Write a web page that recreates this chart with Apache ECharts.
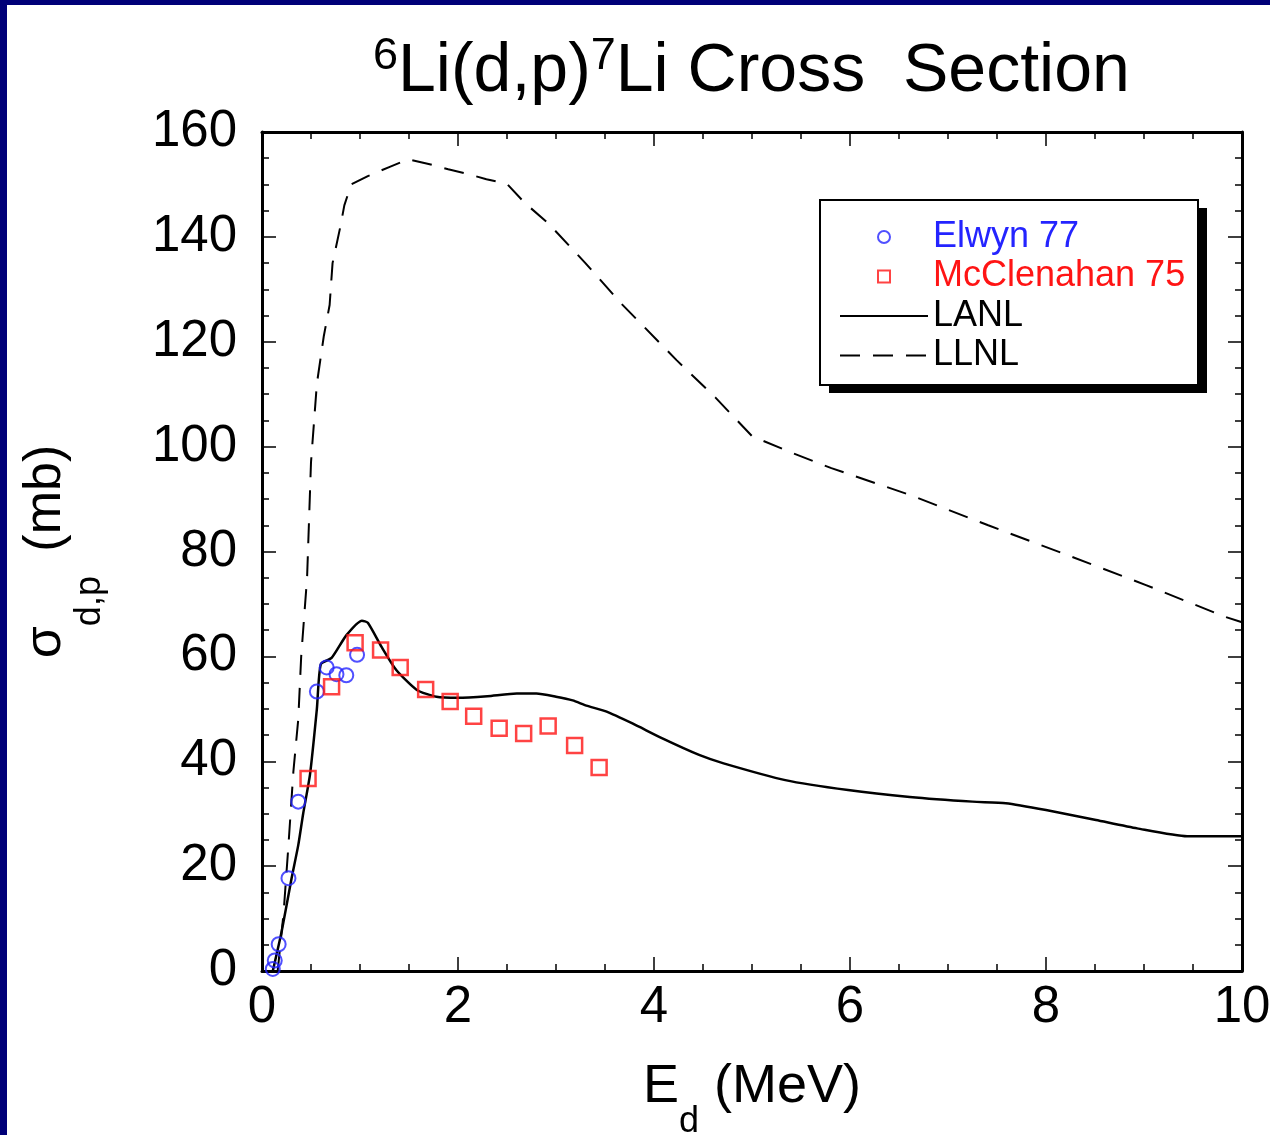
<!DOCTYPE html>
<html><head><meta charset="utf-8">
<script src="https://cdn.jsdelivr.net/npm/echarts@6/dist/echarts.min.js"></script>
<style>
html,body{margin:0;padding:0;background:#000078;width:1270px;height:1135px;overflow:hidden}
#chart{position:absolute;left:7px;top:5px;width:1263px;height:1130px;background:#fff}
</style></head><body><div id="chart"></div>
<script>
// ---- data (E_d in MeV, sigma in mb) ----
const xTickLabels = ['0','2','4','6','8','10'];
const yTickLabels = ['0','20','40','60','80','100','120','140','160'];

const elwynE   = [0.11, 0.13, 0.17, 0.27, 0.37, 0.56, 0.66, 0.76, 0.86, 0.97];
const elwynSig = [0.4,  2.0,  5.1,  17.7, 32.3, 53.3, 57.9, 56.6, 56.4, 60.3];

const mccE   = [0.47, 0.71, 0.95, 1.21, 1.41, 1.67, 1.92, 2.16, 2.42, 2.67, 2.92, 3.19, 3.44];
const mccSig = [36.7, 54.2, 62.6, 61.2, 57.9, 53.7, 51.4, 48.6, 46.3, 45.3, 46.7, 43.0, 38.8];

const lanlE   = [0.11,0.20,0.30,0.37,0.42,0.49,0.56,0.60,0.71,0.86,1.02,1.08,1.22,1.37,1.58,1.78,2.00,2.30,2.60,2.80,3.00,3.17,3.31,3.51,3.78,4.08,4.46,4.71,5.34,5.98,6.61,7.25,7.59,8.00,8.51,8.93,9.44,10.0];
const lanlSig = [0.0, 7.5, 17.5,24.0,30.0,37.5,50.0,58.5,59.7,64.0,66.8,66.4,61.8,57.4,53.6,52.3,52.1,52.4,52.9,52.9,52.3,51.6,50.6,49.5,47.2,44.4,41.2,39.6,36.4,34.5,33.2,32.3,32.0,30.7,28.8,27.2,25.7,25.7];

const llnlE   = [0.16,0.22,0.27,0.32,0.37,0.40,0.46,0.50,0.56,0.63,0.69,0.72,0.80,0.84,0.91,1.08,1.31,1.49,1.70,1.90,2.10,2.29,2.50,2.68,2.92,3.30,3.66,4.23,4.63,5.00,5.41,5.81,6.61,7.41,8.22,9.02,9.82,10.0];
const llnlSig = [0.0, 11,  24,  38,  48,  60,  75,  97,  112, 121, 127, 135, 142, 146, 150, 151.6,153.4,154.8,153.9,152.9,152.0,151.0,150.1,146.5,142.6,135.0,127.4,116.5,109.3,102.0,98.8,95.9,90.8,85.0,79.3,73.6,67.6,66.5];

const FONT = "'Liberation Sans', Arial, sans-serif";
const zip = (a, b) => a.map((v, i) => [v, b[i]]);

const axisCommon = {
  type: 'value',
  axisLine: { show: true, onZero: false, lineStyle: { color: '#000', width: 3 } },
  axisTick: { show: true, inside: true, length: 14, lineStyle: { color: '#000', width: 1.5 } },
  minorTick: { show: true, splitNumber: 4, length: 7, lineStyle: { color: '#000', width: 1.5 } },
  splitLine: { show: false },
  minorSplitLine: { show: false }
};

const chart = echarts.init(document.getElementById('chart'));
chart.setOption({
  animation: false,
  backgroundColor: '#fff',
  title: {
    text: '{sup|6}{m|Li(d,p)}{sup|7}{m|Li Cross  Section}',
    left: 366, top: 29, padding: 0,
    textStyle: {
      fontWeight: 'normal',
      rich: {
        m: { fontFamily: FONT, fontSize: 68, fontWeight: 'normal', lineHeight: 70, color: '#000', verticalAlign: 'top', padding: [4, 0, 0, 0] },
        sup: { fontFamily: FONT, fontSize: 45, fontWeight: 'normal', lineHeight: 45, color: '#000', verticalAlign: 'top' }
      }
    }
  },
  graphic: [
    { type: 'rect', z: 10, shape: { x: 822, y: 203, width: 378, height: 185 }, style: { fill: '#000' } },
    { type: 'rect', z: 11, shape: { x: 813, y: 195, width: 378, height: 185 }, style: { fill: '#fff', stroke: '#000', lineWidth: 2 } }
  ],
  grid: { left: 255, right: 28, top: 127, bottom: 164, containLabel: false, outerBoundsMode: 'none' },
  xAxis: [
    Object.assign({}, axisCommon, {
      position: 'bottom', min: 0, max: 10, interval: 2,
      axisLabel: { show: true, margin: 11, fontSize: 51, fontFamily: FONT, color: '#000',
        formatter: (v) => xTickLabels[Math.round(v / 2)] },
      name: '{m|E}{s|d}{m| (MeV)}', nameLocation: 'middle', nameGap: 89,
      nameTextStyle: { rich: {
        m: { fontFamily: FONT, fontSize: 54, lineHeight: 54, color: '#000', verticalAlign: 'top' },
        s: { fontFamily: FONT, fontSize: 36, lineHeight: 36, color: '#000', verticalAlign: 'top', padding: [44, 0, 0, 0] }
      } }
    }),
    Object.assign({}, axisCommon, { position: 'top', min: 0, max: 10, interval: 2, axisLabel: { show: false } })
  ],
  yAxis: [
    Object.assign({}, axisCommon, {
      position: 'left', min: 0, max: 160, interval: 20,
      axisLabel: { show: true, margin: 25, fontSize: 51, fontFamily: FONT, color: '#000',
        formatter: (v) => yTickLabels[Math.round(v / 20)] },
      name: '{m|σ}{s|d,p }{m| (mb)}', nameLocation: 'middle', nameGap: 190, nameRotate: 90,
      nameTextStyle: { rich: {
        m: { fontFamily: FONT, fontSize: 52, lineHeight: 52, color: '#000', verticalAlign: 'top' },
        s: { fontFamily: FONT, fontSize: 36, lineHeight: 36, color: '#000', verticalAlign: 'top', padding: [52, 0, 0, 0] }
      } }
    }),
    Object.assign({}, axisCommon, { position: 'right', min: 0, max: 160, interval: 20, axisLabel: { show: false } })
  ],
  legend: {
    z: 12,
    orient: 'vertical', left: 813, top: 197,
    itemWidth: 88, itemHeight: 12, itemGap: 3.5,
    padding: [17, 14, 14, 19],
    backgroundColor: 'transparent', borderWidth: 0,
    textStyle: { fontFamily: FONT, fontSize: 36, lineHeight: 36, color: '#000' },
    data: [
      { name: 'Elwyn 77', textStyle: { color: '#2424ff' } },
      { name: 'McClenahan 75', icon: 'path://M0,0L10,0L10,10L0,10Z', textStyle: { color: '#ff1414' } },
      { name: 'LANL', textStyle: { color: '#000' }, itemStyle: { color: 'rgba(0,0,0,0)', borderColor: 'rgba(0,0,0,0)', borderWidth: 0 } },
      { name: 'LLNL', textStyle: { color: '#000' }, itemStyle: { color: 'rgba(0,0,0,0)', borderColor: 'rgba(0,0,0,0)', borderWidth: 0 } }
    ]
  },
  series: [
    { name: 'LANL', type: 'line', data: zip(lanlE, lanlSig), symbol: 'none', showSymbol: false, smooth: 0.2,
      lineStyle: { color: '#000', width: 2.5 }, itemStyle: { color: '#000' }, z: 2 },
    { name: 'LLNL', type: 'line', data: zip(llnlE, llnlSig), symbol: 'none', showSymbol: false,
      lineStyle: { color: '#000', width: 2, type: [20, 13] }, itemStyle: { color: '#000' }, z: 2 },
    { name: 'Elwyn 77', type: 'scatter', data: zip(elwynE, elwynSig), symbol: 'circle', symbolSize: 14,
      itemStyle: { color: 'rgba(0,0,0,0)', borderColor: '#2424ff', borderWidth: 2 }, z: 3 },
    { name: 'McClenahan 75', type: 'scatter', data: zip(mccE, mccSig), symbol: 'rect', symbolSize: 15,
      itemStyle: { color: 'rgba(0,0,0,0)', borderColor: '#ff1414', borderWidth: 2.5 }, z: 3 }
  ]
});
</script></body></html>
